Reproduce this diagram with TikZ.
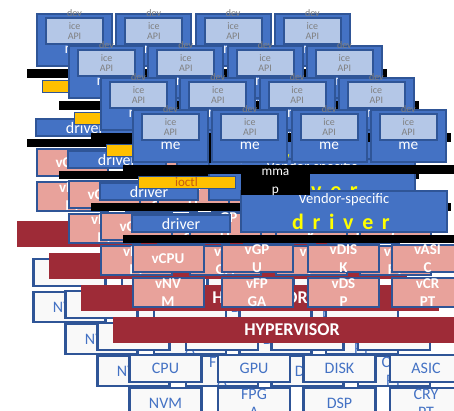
\documentclass[tikz,border=0pt]{standalone}
\usepackage{fontspec}
\setmainfont{Carlito}
\usetikzlibrary{calc}
\definecolor{blueF}{HTML}{4472C4}
\definecolor{blueD}{HTML}{2F5597}
\definecolor{lightB}{HTML}{B4C7E7}
\definecolor{grayT}{HTML}{808080}
\definecolor{pinkF}{HTML}{E8A29B}
\definecolor{hyperR}{HTML}{9E2B37}
\definecolor{hwF}{HTML}{F9F9F9}
\definecolor{ioctlY}{HTML}{FFC000}
\definecolor{ioctlT}{HTML}{C55A11}
\definecolor{drvY}{HTML}{FFFF00}
\tikzset{
  wh/.style 2 args={minimum width=#1*0.75pt, minimum height=#2*0.75pt},
  base/.style={draw=blueD, line width=1.5pt, inner sep=0pt, outer sep=0pt},
  devbox/.style={base, fill=blueF, wh={75}{52}},
  apibox/.style={base, fill=lightB, text=grayT, align=center, wh={57}{26},
    font=\fontsize{7.5}{7.9}\selectfont},
  devlabel/.style={inner sep=0pt, text=grayT, font=\fontsize{7.5}{7.9}\selectfont},
  melabel/.style={inner sep=0pt, text=white, font=\fontsize{11.5}{13}\selectfont},
  barbox/.style={fill=black, inner sep=0pt, outer sep=0pt, anchor=north west, wh={360}{#1}},
  ioctlbox/.style={draw=blueD, line width=0.75pt, fill=ioctlY, text=ioctlT, inner sep=0pt,
    wh={97}{12}, font=\fontsize{9.75}{10}\selectfont},
  drvbox/.style={base, fill=blueF, text=white, wh={98}{17}, font=\fontsize{12}{13}\selectfont},
  vendbox/.style={base, fill=blueF, wh={206}{41}},
  vendtext/.style={inner sep=0pt, text=white, font=\fontsize{10.9}{12}\selectfont},
  vendbig/.style={inner sep=0pt, text=drvY, font=\fontsize{16.5}{17}\selectfont\bfseries},
  mmapbox/.style={fill=black, text=white, inner sep=0pt, align=center, wh={69}{10},
    font=\fontsize{10}{13.5}\selectfont},
  pinkbox/.style={base, fill=pinkF, text=white, align=center, wh={71}{#1},
    font=\fontsize{11.25}{13.5}\selectfont\bfseries},
  hyperbox/.style={fill=hyperR, text=white, inner sep=0pt, wh={358}{26},
    font=\fontsize{13.5}{14}\selectfont\bfseries},
  hwbox/.style={draw=blueD, line width=2pt, fill=hwF, text=blueF, inner sep=0pt, align=center,
    wh={72}{#1}, font=\fontsize{12}{13.5}\selectfont},
}
\begin{document}
\begin{tikzpicture}[x=0.75pt,y=-0.75pt]
\useasboundingbox (0,0) rectangle (454,411);
\fill[white] (0,0) rectangle (454,411);
\clip (0,0) rectangle (454,411);
\foreach \k in {3,2,1,0}{
\begin{scope}[shift={(-32*\k,-32*\k)}, name prefix=L\k-]
  % device boxes
  \foreach \i in {0,...,3}{
    \pgfmathsetmacro\cx{170.5+79.3*\i}
    \node[devbox] (dev\i) at (\cx,136) {};
    \node[apibox] (api\i) at (\cx,127) {ice\\API};
    \node[devlabel] (dl\i) at (\cx,109.5) {dev};
    \node[melabel] (me\i) at (\cx,146) {me};
  }
  \node[barbox=9] (barA) at (123,165) {};
  \node[ioctlbox] (ioctl) at (186.5,182) {ioctl};
  \node[drvbox] (driver) at (181,223.5) {driver};
  \node[vendbox] (vendor) at (344,211.5) {};
  \node[vendtext] (vendT) at (344,200) {Vendor-specific};
  \node[vendbig] (vendD) at (341,222) {d\hspace{6.5pt}r\hspace{6.5pt}i\hspace{6.5pt}v\hspace{6.5pt}e\hspace{6.5pt}r};
  \node[mmapbox] (mmap) at (275.5,182) {mma\\p};
  \node[barbox=8] (barB) at (123,234.5) {};
  % virtual devices
  \node[pinkbox=27] (vcpu)  at (168,258.5) {vCPU};
  \node[pinkbox=27] (vgpu)  at (257,258.5) {vGP\\U};
  \node[pinkbox=27] (vdisk) at (343.5,258.5) {vDIS\\K};
  \node[pinkbox=27] (vasic) at (427.5,258.5) {vASI\\C};
  \node[pinkbox=29] (vnvm)  at (168,292.5) {vNV\\M};
  \node[pinkbox=29] (vfpga) at (257,292.5) {vFP\\GA};
  \node[pinkbox=29] (vdsp)  at (343.5,292.5) {vDS\\P};
  \node[pinkbox=29] (vcrypt) at (427.5,292.5) {vCR\\PT};
  % hypervisor
  \node[hyperbox] (hyper) at (292,330) {HYPERVISOR};
  % hardware
  \node[hwbox=27] (cpu)  at (165.5,368.5) {CPU};
  \node[hwbox=27] (gpu)  at (254,368.5) {GPU};
  \node[hwbox=27] (disk) at (339.5,368.5) {DISK};
  \node[hwbox=27] (asic) at (426,368.5) {ASIC};
  \node[hwbox=30] (nvm)  at (165.5,403) {NVM};
  \node[hwbox=30] (fpga) at (254,403) {FPG\\A};
  \node[hwbox=30] (dsp)  at (339.5,403) {DSP};
  \node[hwbox=30] (crypt) at (426,403) {CRY\\PT};
\end{scope}
}
\end{tikzpicture}
\end{document}
